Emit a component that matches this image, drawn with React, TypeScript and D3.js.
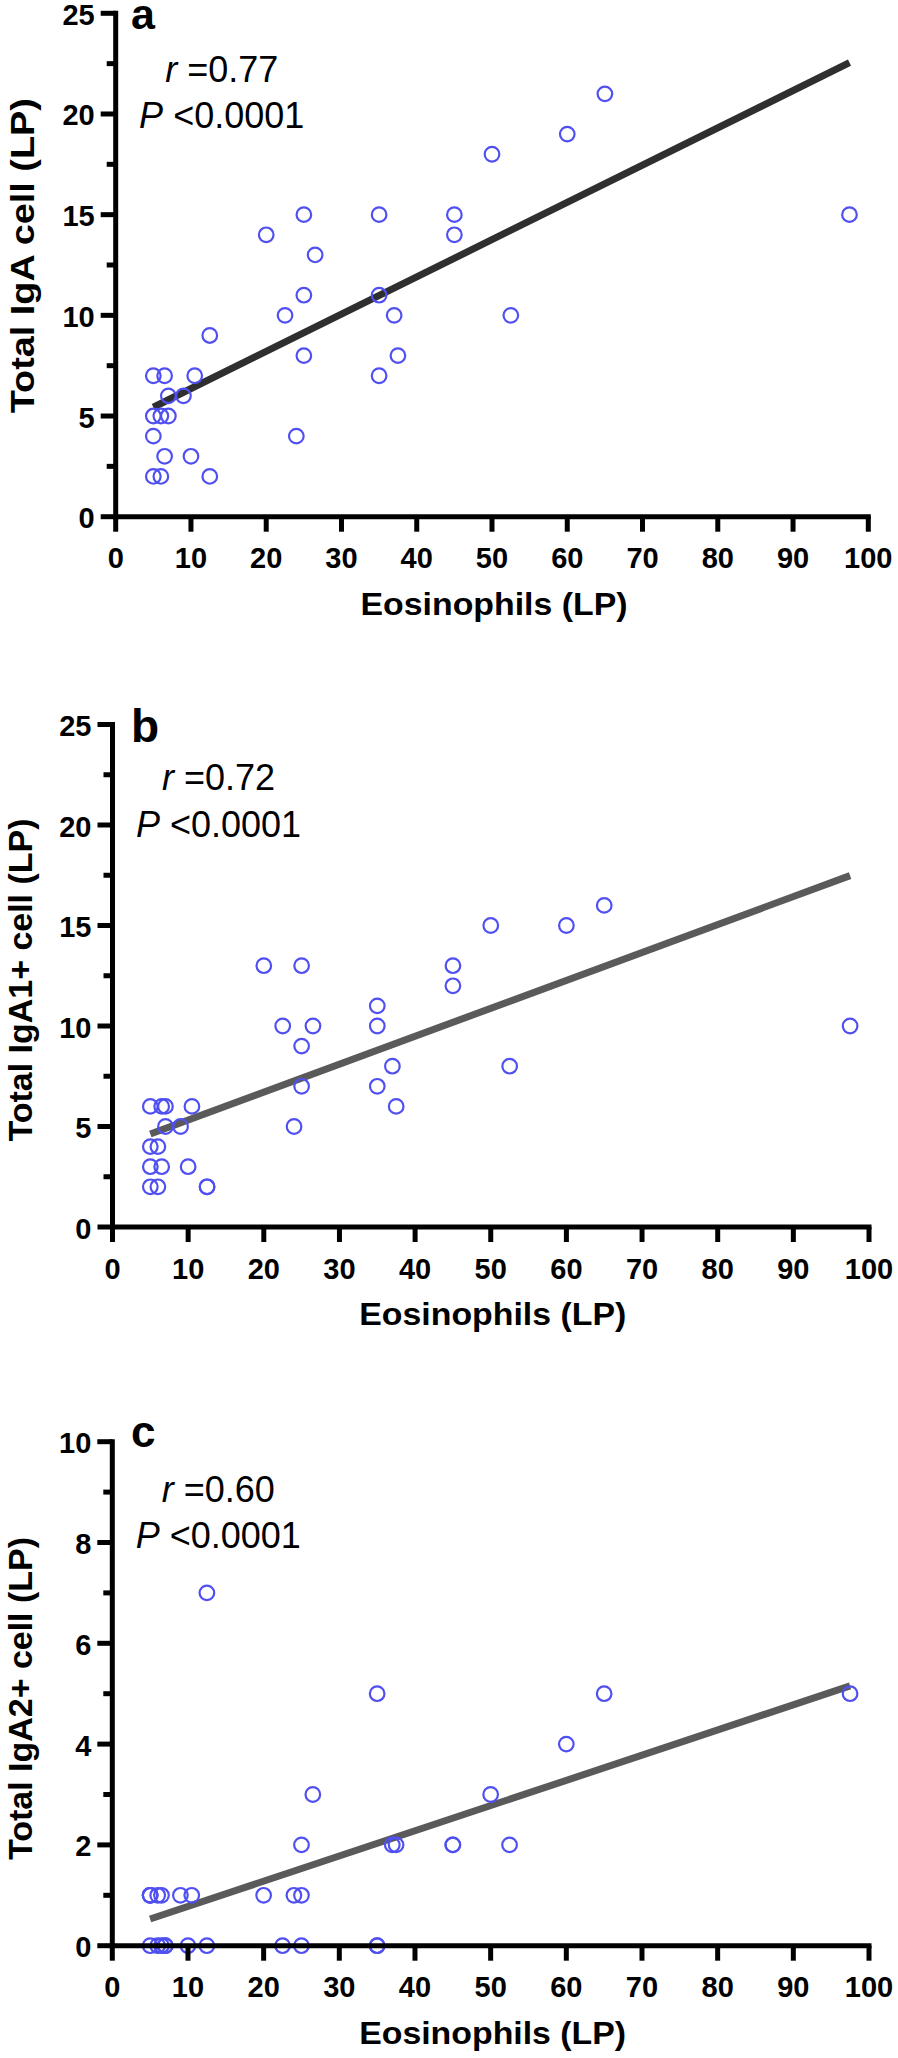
import React from 'react';
import * as d3 from 'd3';

// ---------- data ----------
const xTickValues = [0, 10, 20, 30, 40, 50, 60, 70, 80, 90, 100];

// Panel a: Total IgA cell (LP) vs Eosinophils (LP)
const eosA = [65, 60, 50, 25, 35, 45, 97.5, 20, 45, 26.5, 25, 35, 22.5, 37, 52.5, 12.5, 25, 37.5, 35, 5, 6.5, 10.5, 7, 9, 5, 6, 7, 5, 24, 6.5, 10, 5, 6, 12.5];
const igaA = [21, 19, 18, 15, 15, 15, 15, 14, 14, 13, 11, 11, 10, 10, 10, 9, 8, 8, 7, 7, 7, 7, 6, 6, 5, 5, 5, 4, 4, 3, 3, 2, 2, 2];
const yTicksA = [0, 5, 10, 15, 20, 25];
const yMinorA = [2.5, 7.5, 12.5, 17.5, 22.5];
const fitA = [4.51, 0.185]; // intercept, slope

// Panel b: Total IgA1+ cell (LP)
const eosB = [65, 50, 60, 20, 25, 45, 45, 35, 35, 22.5, 26.5, 97.5, 25, 37, 52.5, 25, 35, 37.5, 5, 6.5, 7, 10.5, 7, 9, 24, 5, 6, 5, 6.5, 10, 5, 6, 12.5, 12.5];
const igaB = [16, 15, 15, 13, 13, 13, 12, 11, 10, 10, 10, 10, 9, 8, 8, 7, 7, 6, 6, 6, 6, 6, 5, 5, 5, 4, 4, 3, 3, 3, 2, 2, 2, 2];
const yTicksB = [0, 5, 10, 15, 20, 25];
const yMinorB = [2.5, 7.5, 12.5, 17.5, 22.5];
const fitB = [3.93, 0.139];

// Panel c: Total IgA2+ cell (LP)
const eosC = [12.5, 35, 65, 97.5, 60, 26.5, 50, 25, 37, 37.5, 45, 45, 52.5, 5, 5, 5, 6, 6.5, 9, 10.5, 20, 24, 25, 5, 6, 6.5, 7, 7, 10, 12.5, 22.5, 25, 35, 35];
const igaC = [7, 5, 5, 5, 4, 3, 3, 2, 2, 2, 2, 2, 2, 1, 1, 1, 1, 1, 1, 1, 1, 1, 1, 0, 0, 0, 0, 0, 0, 0, 0, 0, 0, 0];
const yTicksC = [0, 2, 4, 6, 8, 10];
const yMinorC = [1, 3, 5, 7, 9];
const fitC = [0.28, 0.05];

const FONT = "'Liberation Sans', Arial, Helvetica, sans-serif";
const DOT = '#5050f2';

type PanelProps = {
  xs: number[];
  ys: number[];
  yTicks: number[];
  yMinor: number[];
  fit: number[];
  letter: string;
  rText: string;
  yTitle: string;
  lineColor: string;
  L: {
    x0: number; x1: number; yb: number; yt: number;
    letterY: number; letterSize: number; rY: number; pY: number;
    yTitleY: number; yTitleLen: number; yTitleX: number;
  };
};

function Panel({ xs, ys, yTicks, yMinor, fit, letter, rText, yTitle, lineColor, L }: PanelProps) {
  const yMax = yTicks[yTicks.length - 1];
  const x = d3.scaleLinear().domain([0, 100]).range([L.x0, L.x1]);
  const y = d3.scaleLinear().domain([0, yMax]).range([L.yb, L.yt]);
  const xMin = d3.min(xs) as number;
  const xMax = d3.max(xs) as number;
  const fitPts: [number, number][] = [xMin, xMax].map((v) => [v, fit[0] + fit[1] * v]);
  const line = d3.line<[number, number]>().x((d) => x(d[0])).y((d) => y(d[1]));
  const axisW = 5;
  return (
    <g>
      {/* regression line */}
      <path d={line(fitPts) || ''} stroke={lineColor} strokeWidth={7} fill="none" />
      {/* points */}
      {xs.map((v, i) => (
        <circle key={i} cx={x(v)} cy={y(ys[i])} r={7.3} fill="none" stroke={DOT} strokeWidth={2.2} />
      ))}
      {/* axes */}
      <line x1={x(0)} x2={x(100)} y1={y(0)} y2={y(0)} stroke="#000" strokeWidth={axisW} strokeLinecap="square" />
      <line x1={x(0)} x2={x(0)} y1={y(0)} y2={y(yMax)} stroke="#000" strokeWidth={axisW} strokeLinecap="square" />
      {xTickValues.map((t) => (
        <g key={'xt' + t}>
          <line x1={x(t)} x2={x(t)} y1={y(0)} y2={y(0) + 15} stroke="#000" strokeWidth={axisW} />
          <text x={x(t)} y={y(0) + 51.5} textAnchor="middle" fontFamily={FONT} fontWeight="bold" fontSize={29}>{t}</text>
        </g>
      ))}
      {yTicks.map((t) => (
        <g key={'yt' + t}>
          <line x1={x(0) - 15} x2={x(0)} y1={y(t)} y2={y(t)} stroke="#000" strokeWidth={axisW} />
          <text x={x(0) - 21} y={y(t) + 11.5} textAnchor="end" fontFamily={FONT} fontWeight="bold" fontSize={29}>{t}</text>
        </g>
      ))}
      {yMinor.map((t) => (
        <line key={'ym' + t} x1={x(0) - 9} x2={x(0)} y1={y(t)} y2={y(t)} stroke="#000" strokeWidth={axisW} />
      ))}
      {/* x title */}
      <text x={(x(0) + x(100)) / 2 + 2} y={y(0) + 98} textAnchor="middle" fontFamily={FONT} fontWeight="bold" fontSize={32}
        textLength={267} lengthAdjust="spacingAndGlyphs">Eosinophils (LP)</text>
      {/* y title */}
      <text transform={`translate(${L.yTitleX},${L.yTitleY}) rotate(-90)`} textAnchor="middle" fontFamily={FONT}
        fontWeight="bold" fontSize={32.5} textLength={L.yTitleLen} lengthAdjust="spacingAndGlyphs">{yTitle}</text>
      {/* panel letter */}
      <text x={131} y={L.letterY} fontFamily={FONT} fontWeight="bold" fontSize={L.letterSize}>{letter}</text>
      {/* stats */}
      <text x={x(0) + 106} y={L.rY} textAnchor="middle" fontFamily={FONT} fontSize={36}>
        <tspan fontStyle="italic">r</tspan> ={rText}
      </text>
      <text x={x(0) + 106} y={L.pY} textAnchor="middle" fontFamily={FONT} fontSize={36}>
        <tspan fontStyle="italic">P</tspan> {'<0.0001'}
      </text>
    </g>
  );
}

export default function App() {
  return (
    <svg width={898} height={2058} style={{ position: 'absolute', left: 0, top: 0, background: '#fff' }}>
      <rect width={898} height={2058} fill="#fff" />
      <Panel xs={eosA} ys={igaA} yTicks={yTicksA} yMinor={yMinorA} fit={fitA} letter="a" rText="0.77"
        yTitle="Total IgA cell (LP)" lineColor="#2f2f2f"
        L={{ x0: 115.7, x1: 868.3, yb: 516.7, yt: 13.3, letterY: 29, letterSize: 43, rY: 81.7, pY: 128.3,
          yTitleY: 255.7, yTitleLen: 315, yTitleX: 33.5 }} />
      <Panel xs={eosB} ys={igaB} yTicks={yTicksB} yMinor={yMinorB} fit={fitB} letter="b" rText="0.72"
        yTitle="Total IgA1+ cell (LP)" lineColor="#5a5a5a"
        L={{ x0: 112.5, x1: 869, yb: 1227, yt: 724.5, letterY: 741.7, letterSize: 46, rY: 790, pY: 836.7,
          yTitleY: 980, yTitleLen: 323, yTitleX: 31.5 }} />
      <Panel xs={eosC} ys={igaC} yTicks={yTicksC} yMinor={yMinorC} fit={fitC} letter="c" rText="0.60"
        yTitle="Total IgA2+ cell (LP)" lineColor="#5a5a5a"
        L={{ x0: 112.3, x1: 869, yb: 1945.7, yt: 1441.7, letterY: 1446.7, letterSize: 44, rY: 1501.7, pY: 1548.3,
          yTitleY: 1698.5, yTitleLen: 323, yTitleX: 31.5 }} />
    </svg>
  );
}
